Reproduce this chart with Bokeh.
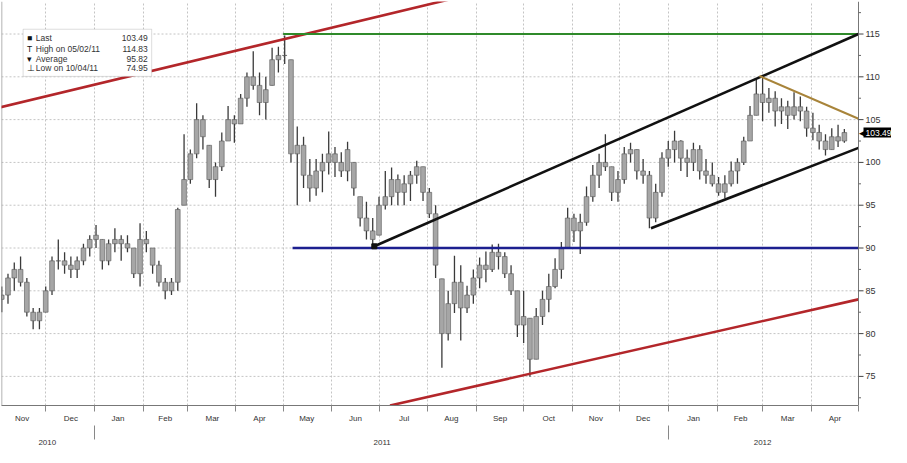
import numpy as np
import pandas as pd
from bokeh.plotting import figure
from bokeh.models import Range1d, LinearAxis, FixedTicker, Label, BoxAnnotation, ColumnDataSource
from bokeh.core.properties import value
from bokeh.embed import file_html
from bokeh.resources import INLINE

FONT = "Liberation Sans"
ORIGIN = pd.Timestamp("2010-11-01")

# ---------------- data ----------------
first_bar = "2010-11-03"
bar_every = "4D"
high = [
    85.5, 87, 88.3, 89, 86.5, 83, 83, 85.5, 89, 91,
    89.5, 89, 89, 90.5, 91.5, 92.7, 91, 91, 92.3, 91.5,
    91.5, 90, 92.9, 92, 90, 88.5, 86.5, 86.5, 94.7, 103.3,
    101.5, 106.9, 105.5, 102, 100, 103.5, 106.6, 105.5, 108, 110.5,
    113, 110.5, 110, 113.4, 113.5, 114.83, 112, 104.2, 103, 100.4,
    100.4, 101, 103.6, 101.8, 101.2, 102.4, 100, 96, 95.4, 93.5,
    96, 99, 99.4, 98.6, 98.5, 99, 100.2, 99.5, 97, 95,
    86.4, 85, 89.1, 88, 85.6, 87.5, 88.9, 89.6, 90.4, 90.5,
    89.5, 88, 85, 85, 81.8, 83, 85, 87, 88.8, 90.7,
    94.7, 94, 94, 97.2, 99.7, 101, 103.3, 99.5, 99, 101.8,
    102.3, 101.5, 100.4, 99, 97.5, 101.2, 102.5, 103.7, 102.6, 101.5,
    102.3, 102, 100.4, 100, 98.3, 98.5, 100.1, 100.5, 103, 106.6,
    109.8, 110, 108.7, 108.3, 107.5, 107.2, 108.2, 107.7, 106.5, 105.8,
    104.4, 103.3, 104, 104.4, 103.9]
low = [
    82.5, 83.5, 85, 85.5, 82, 80.5, 80.5, 82.5, 84.5, 87.5,
    87, 86.5, 86.5, 88, 89, 90, 87.5, 88, 89.5, 88.5,
    89.5, 86.5, 85.5, 89.5, 87, 85.5, 84, 84.5, 85, 95,
    97.5, 100.5, 101.5, 97, 96, 99, 102.5, 102.3, 104.5, 106.5,
    108.5, 105.5, 105, 109, 110.5, 111.5, 100, 95, 97, 95.4,
    96.1, 96.5, 98.6, 98.3, 98.3, 97.8, 96.1, 92.5, 91, 90,
    91.5, 94.5, 95, 95, 95, 95.5, 97.5, 95.5, 93.5, 86.5,
    76, 79.2, 82.4, 79.2, 82.4, 83.5, 85.3, 86, 87.2, 87.5,
    86.5, 84.5, 79.6, 78.9, 74.95, 77, 81, 82.5, 85.3, 86.4,
    90, 90.7, 89.3, 92.6, 95.4, 97, 99, 95.5, 95.4, 97.5,
    100, 98, 97.5, 92.3, 93, 96, 99.5, 100, 99, 98.3,
    99, 98, 97.5, 97.2, 96.1, 95.8, 97.2, 97.5, 99.7, 102.5,
    105.5, 104.8, 105.8, 104.2, 104.5, 103.9, 105, 104.8, 103, 102.6,
    101.5, 100.8, 101.5, 101.8, 102.3]
close = [
    84.5, 86.5, 87.5, 86, 82.5, 81.5, 82.5, 85, 88.5, 88.5,
    88, 87.5, 88.5, 90, 91, 91.5, 88.5, 90.5, 91, 90.5,
    90, 87, 91, 90.5, 88, 86, 85, 86, 94.5, 98,
    101, 105, 103, 98, 99.5, 102.5, 105, 104.5, 107.5, 110,
    109, 107, 108.5, 112, 112.5, 112.5, 101, 102, 98.5, 97,
    99, 100, 101, 100, 99, 101.5, 97, 93.5, 92, 91,
    95, 96, 98, 96.5, 97.5, 98.5, 99.5, 96.5, 94, 88,
    80, 83.5, 86, 83, 84.5, 86.5, 88, 87.5, 89.5, 89,
    87, 85, 81, 82, 77, 82, 84, 85.5, 87.5, 90,
    93.5, 92, 93, 96, 98.5, 100, 99.5, 96.5, 98, 101,
    101.5, 99, 98.5, 93.5, 96.5, 100.5, 101.5, 102.5, 100.5, 100,
    101.5, 99, 98.5, 97.5, 96.5, 97.5, 99, 100, 102.5, 105.5,
    108, 107, 107.5, 106, 106.5, 105.5, 106.5, 106, 104, 103.5,
    102.5, 101.5, 103, 102.5, 103.49]
first_open = 84.0

# trend lines drawn on the chart
tl_start = ["2010-11-01", "2011-05-01", "2011-06-28", "2011-12-21", "2012-02-28", "2011-05-07", "2011-07-08"]
tl_start_price = [106.4, 115.0, 90.2, 92.3, 110.1, 90.0, 71.6]
tl_end = ["2011-09-01", "2012-05-01", "2012-05-01", "2012-05-01", "2012-05-01", "2012-05-01", "2012-05-01"]
tl_end_price = [119.8, 115.0, 115.0, 101.7, 105.1, 90.0, 84.0]
tl_color = ["#b3262a", "#2f8a2a", "#111111", "#111111", "#a8843a", "#1c1f8f", "#b3262a"]
tl_width = [2.6, 2.0, 2.6, 2.6, 2.0, 2.6, 2.6]

price_ticks = [75, 80, 85, 90, 95, 100, 105, 110, 115]
price_minor = [72.5, 77.5, 82.5, 87.5, 92.5, 97.5, 102.5, 107.5, 112.5, 117.5]
month_starts = pd.date_range("2010-11-01", "2012-05-01", freq="MS")
years = ["2010", "2011", "2012"]

legend_names = ["Last", "High on 05/02/11", "Average", "Low on 10/04/11"]
legend_symbols = ["\u25A0", "T", "\u25BE", "\u22A5"]
legend_values = ["103.49", "114.83", "95.82", "74.95"]
last_value = 103.49

# ---------------- helpers ----------------
def day(ts):
    return (pd.Timestamp(ts) - ORIGIN) / pd.Timedelta(days=1)

W, H = 891, 447
DATA_W = 857                 # pixels of the data area; the rest on the right holds the price scale
X_START = 1.87
X_END = day("2012-05-01")
DPP = (X_END - X_START) / DATA_W          # days per pixel
X_MAX = X_END + (W - 1 - DATA_W) * DPP
Y_LO, Y_HI = 71.6, 118.8

# reference-pixel -> data (used only for placing annotations)
def ref_x(px):
    return X_START + px * (X_END - X_START) / 873.0

def ref_y(py):
    return Y_HI - py * (Y_HI - Y_LO) / 437.0

dates = pd.date_range(first_bar, periods=len(close), freq=bar_every)
xs = [day(t) for t in dates]
hi = np.array(high)
lo = np.array(low)
cl = np.array(close)
op = np.array([first_open] + close[:-1])
top = np.clip(np.maximum(op, cl), lo, hi)
bot = np.clip(np.minimum(op, cl), lo, hi)

src = ColumnDataSource(dict(x=xs, hi=hi, lo=lo, top=top, bot=bot))

p = figure(width=W, height=H, output_backend="svg", toolbar_location=None,
           x_range=Range1d(X_START, X_MAX), y_range=Range1d(Y_LO, Y_HI),
           y_axis_location=None, min_border_left=1, min_border_top=1,
           min_border_right=0, min_border_bottom=0)
p.background_fill_color = "white"
p.border_fill_color = "white"
p.outline_line_color = None

# grids
ms_days = [int(round(day(m))) for m in month_starts]
p.xgrid.ticker = FixedTicker(ticks=ms_days[:-1])
p.xgrid.grid_line_color = "#c4c4c4"
p.xgrid.grid_line_dash = "2 2"
p.ygrid.visible = False
p.segment(x0=[X_START] * len(price_ticks), y0=price_ticks, x1=[X_END] * len(price_ticks), y1=price_ticks,
          line_color="#c4c4c4", line_dash="2 2", line_width=1)

# left border of the chart area
p.segment(x0=[X_START], y0=[Y_LO], x1=[X_START], y1=[Y_HI], line_color="#9a9a9a", line_width=1.5)

# price bars
p.segment(x0="x", y0="lo", x1="x", y1="hi", source=src, line_color="#3a3a3a", line_width=1.3)
p.vbar(x="x", width=3.0, top="top", bottom="bot", source=src,
       fill_color="#a6a6a6", line_color="#555555", line_width=0.6)

# trend lines
tl_src = ColumnDataSource(dict(x0=[day(s) for s in tl_start], y0=tl_start_price,
                               x1=[day(s) for s in tl_end], y1=tl_end_price,
                               c=tl_color, w=tl_width))
p.segment(x0="x0", y0="y0", x1="x1", y1="y1", source=tl_src, line_color="c", line_width="w")
p.scatter(x=[day(tl_start[2])], y=[tl_start_price[2]], marker="square", size=5, color="#111111")

# price scale on the right edge of the data area
p.segment(x0=[X_END], y0=[Y_LO], x1=[X_END], y1=[Y_HI], line_color="#777777", line_width=1)
p.segment(x0=[X_END] * len(price_ticks), y0=price_ticks, x1=[X_END + 5 * DPP] * len(price_ticks),
          y1=price_ticks, line_color="#444444", line_width=1)
p.segment(x0=[X_END] * len(price_minor), y0=price_minor, x1=[X_END + 2.5 * DPP] * len(price_minor),
          y1=price_minor, line_color="#666666", line_width=1)
p.text(x=[X_END + 7 * DPP] * len(price_ticks), y=price_ticks, text=[str(t) for t in price_ticks],
       text_font=value(FONT), text_font_size="9px", text_color="#333333",
       text_baseline="middle", text_align="left")

# last price tag
p.text(x=[X_END + 0.5 * DPP], y=[last_value], text=["\u25C0"], text_font=value(FONT),
       text_font_size="9px", text_color="black", text_baseline="middle", text_align="left")
p.text(x=[X_END + 5 * DPP], y=[last_value], text=[f"{last_value:.2f}"], text_font=value(FONT),
       text_font_size="8.5px", text_color="white", text_baseline="middle", text_align="left",
       background_fill_color="black", padding=2)

# month axis
mids = [int(round((day(a) + day(b)) / 2)) for a, b in zip(month_starts[:-1], month_starts[1:])]
xa = p.xaxis[0]
xa.ticker = FixedTicker(ticks=mids, minor_ticks=ms_days)
xa.major_label_overrides = {m: a.strftime("%b") for m, a in zip(mids, month_starts[:-1])}
xa.bounds = (X_START, X_END)
xa.major_tick_line_color = None
xa.minor_tick_out = 6
xa.minor_tick_in = 0
xa.minor_tick_line_color = "#888888"
xa.axis_line_color = "#777777"
xa.major_label_text_font = FONT
xa.major_label_text_font_size = "8px"
xa.major_label_text_color = "#333333"
xa.major_label_standoff = 2

# year axis
year_bounds = [day("2011-01-01"), day("2012-01-01")]
edges = [X_START] + year_bounds + [X_END]
ycent = [int(round((a + b) / 2)) for a, b in zip(edges[:-1], edges[1:])]
ax2 = LinearAxis(ticker=FixedTicker(ticks=ycent, minor_ticks=[int(b) for b in year_bounds]))
ax2.major_label_overrides = {c: y for c, y in zip(ycent, years)}
ax2.axis_line_color = None
ax2.major_tick_line_color = None
ax2.minor_tick_out = 14
ax2.minor_tick_in = 0
ax2.minor_tick_line_color = "#888888"
ax2.major_label_text_font = FONT
ax2.major_label_text_font_size = "8px"
ax2.major_label_text_color = "#333333"
ax2.major_label_standoff = 0
p.add_layout(ax2, "below")

# legend box
p.add_layout(BoxAnnotation(left=ref_x(22), right=ref_x(153), top=ref_y(30), bottom=ref_y(81),
                           fill_color="white", fill_alpha=1.0, line_color="#8a8a8a", line_width=1))
row_y = [40, 51, 62, 72]
for sym, name, val, ry in zip(legend_symbols, legend_names, legend_values, row_y):
    p.add_layout(Label(x=ref_x(26), y=ref_y(ry), text=sym, text_font=FONT, text_font_size="8.5px",
                       text_color="#111111", text_baseline="middle", text_align="left"))
    p.add_layout(Label(x=ref_x(35), y=ref_y(ry), text=name, text_font=FONT, text_font_size="8.5px",
                       text_color="#333333", text_baseline="middle", text_align="left"))
    p.add_layout(Label(x=ref_x(149), y=ref_y(ry), text=val, text_font=FONT, text_font_size="8.5px",
                       text_color="#333333", text_baseline="middle", text_align="right"))

open("out.html", "w").write(file_html(p, INLINE))
